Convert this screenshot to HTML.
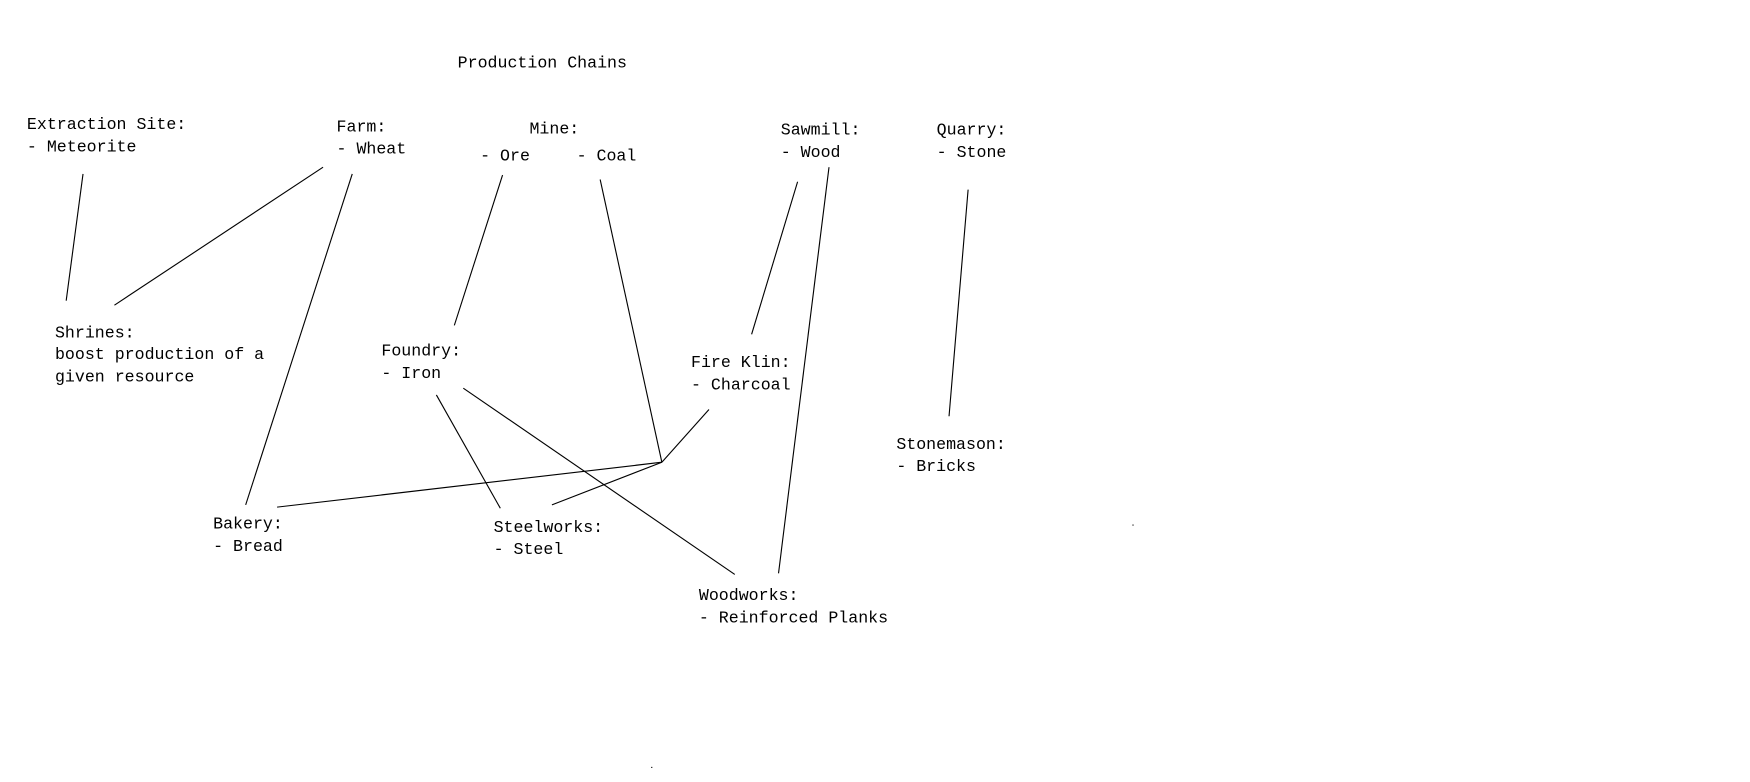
<!DOCTYPE html>
<html><head><style>html,body{margin:0;padding:0;background:#fff;}svg{display:block}</style></head>
<body>
<svg width="1750" height="782" viewBox="0 0 1560 697" preserveAspectRatio="none" xmlns="http://www.w3.org/2000/svg">
<g font-family="Liberation Mono, DejaVu Sans Mono, monospace" font-size="14.8" fill="#000">
<text x="408" y="60">Production Chains</text>
<text x="24" y="115">Extraction Site:</text>
<text x="24" y="135">- Meteorite</text>
<text x="300" y="117">Farm:</text>
<text x="300" y="137">- Wheat</text>
<text x="472" y="119">Mine:</text>
<text x="428" y="143">- Ore</text>
<text x="514" y="143">- Coal</text>
<text x="696" y="120">Sawmill:</text>
<text x="696" y="140">- Wood</text>
<text x="835" y="120">Quarry:</text>
<text x="835" y="140">- Stone</text>
<text x="49" y="301">Shrines:</text>
<text x="49" y="320">boost production of a</text>
<text x="49" y="340">given resource</text>
<text x="340" y="317">Foundry:</text>
<text x="340" y="337">- Iron</text>
<text x="616" y="327">Fire Klin:</text>
<text x="616" y="347">- Charcoal</text>
<text x="799" y="400">Stonemason:</text>
<text x="799" y="420">- Bricks</text>
<text x="190" y="471">Bakery:</text>
<text x="190" y="491">- Bread</text>
<text x="440" y="474">Steelworks:</text>
<text x="440" y="494">- Steel</text>
<text x="623" y="535">Woodworks:</text>
<text x="623" y="555">- Reinforced Planks</text>
</g>
<g stroke="#000" stroke-width="1" fill="none">
<line x1="74" y1="155" x2="59" y2="268"/>
<line x1="288" y1="149" x2="102" y2="272"/>
<line x1="314" y1="155" x2="219" y2="450"/>
<line x1="448" y1="156" x2="405" y2="290"/>
<line x1="535" y1="160" x2="590" y2="412"/>
<line x1="711" y1="162" x2="670" y2="298"/>
<line x1="739" y1="149" x2="694" y2="511"/>
<line x1="863" y1="169" x2="846" y2="371"/>
<line x1="632" y1="365" x2="590" y2="412"/>
<line x1="590" y1="412" x2="247" y2="452"/>
<line x1="590" y1="412" x2="492" y2="450"/>
<line x1="389" y1="352" x2="446" y2="453"/>
<line x1="413" y1="346" x2="655" y2="512"/>
</g>
<rect x="1009.5" y="467.5" width="1" height="1" fill="#000"/>
<rect x="580.5" y="683.5" width="1" height="1" fill="#000"/>
</svg>
</body></html>
